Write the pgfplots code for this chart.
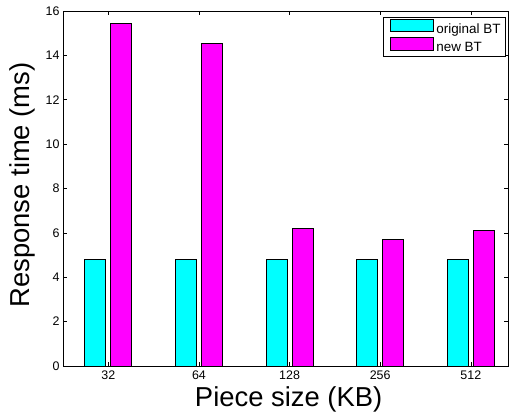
\documentclass[border=0pt]{standalone}
\usepackage{fontspec}
\setmainfont{Liberation Sans}
\usepackage{pgfplots}
\pgfplotsset{compat=1.18}
\begin{document}
\begin{tikzpicture}
\begin{axis}[
  scale only axis,
  width=445bp, height=355bp,
  ybar,
  xmin=0.5, xmax=5.41,
  ymin=0, ymax=16,
  ytick={0,2,...,16},
  xtick={1,2,3,4,5},
  xticklabels={32,64,128,256,512},
  tick align=inside,
  major tick length=4bp,
  axis line style={line width=0.8bp},
  every tick/.style={black, line width=0.6bp},
  /pgf/number format/assume math mode=true,
  ticklabel style={font=\fontsize{12.5}{14}\selectfont},
  xticklabel style={yshift=-1bp},
  xlabel={Piece size (KB)},
  ylabel={Response time (ms)},
  xlabel style={font=\fontsize{27.5}{30}\selectfont, at={(axis description cs:0.507,-0.113)}, anchor=base},
  ylabel style={font=\fontsize{27.5}{30}\selectfont, at={(axis description cs:-0.076,0.51)}, anchor=base, rotate=0},
  legend style={at={(0.9955,0.983)}, anchor=north east, font=\fontsize{13.5}{15}\selectfont,
    draw=black, line width=0.8bp, inner xsep=3bp, inner ysep=1.5bp, row sep=0.5bp},
  legend cell align=left,
  legend image code/.code={\draw[#1, line width=0.8bp] (4bp,-2.5bp) rectangle (47bp,10bp); \path[draw=none,fill=none] (0bp,0bp) -- (48bp,0bp);},
]
\addplot[fill={rgb,1:red,0;green,1;blue,1}, draw=black, line width=0.8bp, bar width=21bp, bar shift=-13bp]
  coordinates {(1,4.8) (2,4.8) (3,4.8) (4,4.8) (5,4.8)};
\addplot[fill={rgb,1:red,1;green,0;blue,1}, draw=black, line width=0.8bp, bar width=21bp, bar shift=13bp]
  coordinates {(1,15.42) (2,14.52) (3,6.2) (4,5.71) (5,6.1)};
\legend{original BT, new BT}
\end{axis}
\path (current axis.south west) ++(-63bp,-47bp) rectangle ++(516bp,413bp);
\end{tikzpicture}
\end{document}
